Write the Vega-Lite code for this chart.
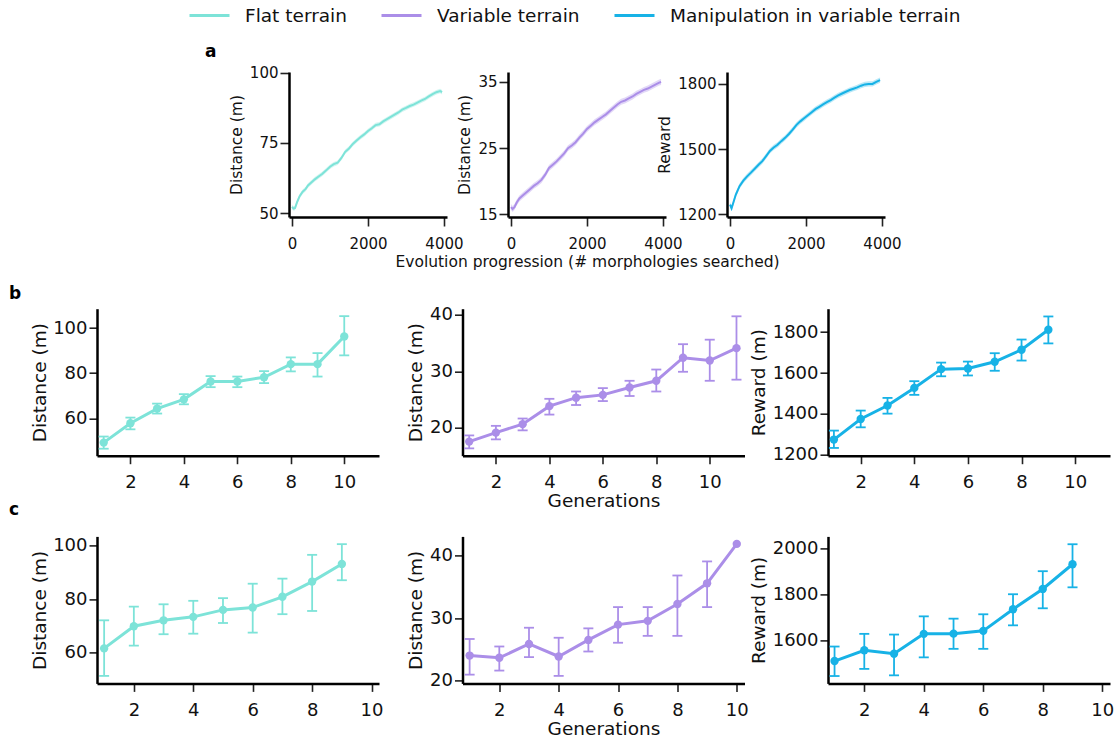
{
"$schema": "https://vega.github.io/schema/vega-lite/v6.json",
"background": "white",
"padding": {"left": 9, "top": 6, "right": 0, "bottom": 0},
"config": {
  "font": "DejaVu Sans",
  "view": {"stroke": null},
  "axis": {"grid": false, "domainColor": "#000", "domainWidth": 2.5, "tickColor": "#222", "tickWidth": 1.6, "labelColor": "#111", "titleColor": "#111", "titleFontWeight": "normal", "labelFont": "DejaVu Sans", "titleFont": "DejaVu Sans", "labelFlush": false, "labelOverlap": false},
  "axisX": {"labelPadding": 10, "tickSize": 8},
  "axisY": {"labelPadding": 2, "tickSize": 8},
  "title": {"fontSize": 17, "fontWeight": "bold", "font": "DejaVu Sans", "color": "#000", "anchor": "start", "frame": "group"},
  "legend": {"labelFont": "DejaVu Sans", "labelColor": "#111"}
},
"datasets": {
"flatEvo": [
{"series":"Flat terrain","x":0,"y":52.2,"lo":51.4,"hi":53.0},
{"series":"Flat terrain","x":40,"y":51.6,"lo":50.8,"hi":52.4},
{"series":"Flat terrain","x":80,"y":51.8,"lo":51.0,"hi":52.6},
{"series":"Flat terrain","x":130,"y":53.8,"lo":53.0,"hi":54.6},
{"series":"Flat terrain","x":200,"y":56.0,"lo":55.2,"hi":56.8},
{"series":"Flat terrain","x":280,"y":57.6,"lo":56.8,"hi":58.4},
{"series":"Flat terrain","x":360,"y":58.6,"lo":57.8,"hi":59.4},
{"series":"Flat terrain","x":420,"y":59.8,"lo":59.0,"hi":60.6},
{"series":"Flat terrain","x":500,"y":60.8,"lo":60.0,"hi":61.6},
{"series":"Flat terrain","x":600,"y":62.0,"lo":61.2,"hi":62.8},
{"series":"Flat terrain","x":700,"y":63.0,"lo":62.2,"hi":63.8},
{"series":"Flat terrain","x":800,"y":64.0,"lo":63.2,"hi":64.8},
{"series":"Flat terrain","x":900,"y":65.2,"lo":64.4,"hi":66.0},
{"series":"Flat terrain","x":1000,"y":66.5,"lo":65.7,"hi":67.3},
{"series":"Flat terrain","x":1100,"y":67.4,"lo":66.6,"hi":68.2},
{"series":"Flat terrain","x":1200,"y":67.9,"lo":67.1,"hi":68.7},
{"series":"Flat terrain","x":1300,"y":69.6,"lo":68.8,"hi":70.4},
{"series":"Flat terrain","x":1400,"y":71.8,"lo":71.0,"hi":72.6},
{"series":"Flat terrain","x":1500,"y":73.0,"lo":72.2,"hi":73.8},
{"series":"Flat terrain","x":1600,"y":74.6,"lo":73.8,"hi":75.4},
{"series":"Flat terrain","x":1700,"y":75.8,"lo":75.0,"hi":76.6},
{"series":"Flat terrain","x":1800,"y":77.0,"lo":76.2,"hi":77.8},
{"series":"Flat terrain","x":1900,"y":78.0,"lo":77.2,"hi":78.8},
{"series":"Flat terrain","x":2000,"y":79.2,"lo":78.4,"hi":80.0},
{"series":"Flat terrain","x":2100,"y":80.2,"lo":79.4,"hi":81.0},
{"series":"Flat terrain","x":2200,"y":81.3,"lo":80.5,"hi":82.1},
{"series":"Flat terrain","x":2300,"y":81.6,"lo":80.8,"hi":82.4},
{"series":"Flat terrain","x":2400,"y":82.6,"lo":81.8,"hi":83.4},
{"series":"Flat terrain","x":2500,"y":83.4,"lo":82.6,"hi":84.2},
{"series":"Flat terrain","x":2600,"y":84.2,"lo":83.4,"hi":85.0},
{"series":"Flat terrain","x":2700,"y":85.0,"lo":84.2,"hi":85.8},
{"series":"Flat terrain","x":2800,"y":85.8,"lo":85.0,"hi":86.6},
{"series":"Flat terrain","x":2900,"y":86.8,"lo":86.0,"hi":87.6},
{"series":"Flat terrain","x":3000,"y":87.4,"lo":86.6,"hi":88.2},
{"series":"Flat terrain","x":3100,"y":88.1,"lo":87.3,"hi":88.9},
{"series":"Flat terrain","x":3200,"y":88.6,"lo":87.8,"hi":89.4},
{"series":"Flat terrain","x":3300,"y":89.3,"lo":88.5,"hi":90.1},
{"series":"Flat terrain","x":3400,"y":90.0,"lo":89.2,"hi":90.8},
{"series":"Flat terrain","x":3500,"y":90.6,"lo":89.8,"hi":91.4},
{"series":"Flat terrain","x":3600,"y":91.5,"lo":90.7,"hi":92.3},
{"series":"Flat terrain","x":3700,"y":92.3,"lo":91.5,"hi":93.1},
{"series":"Flat terrain","x":3800,"y":93.0,"lo":92.2,"hi":93.8},
{"series":"Flat terrain","x":3900,"y":93.4,"lo":92.6,"hi":94.2},
{"series":"Flat terrain","x":3950,"y":93.0,"lo":92.2,"hi":93.8}
],
"varEvo": [
{"series":"Variable terrain","x":0,"y":16.1,"lo":15.65,"hi":16.55},
{"series":"Variable terrain","x":40,"y":15.8,"lo":15.35,"hi":16.25},
{"series":"Variable terrain","x":90,"y":16.1,"lo":15.65,"hi":16.55},
{"series":"Variable terrain","x":150,"y":16.8,"lo":16.35,"hi":17.25},
{"series":"Variable terrain","x":220,"y":17.4,"lo":16.95,"hi":17.85},
{"series":"Variable terrain","x":300,"y":17.8,"lo":17.35,"hi":18.25},
{"series":"Variable terrain","x":400,"y":18.3,"lo":17.85,"hi":18.75},
{"series":"Variable terrain","x":500,"y":18.8,"lo":18.35,"hi":19.25},
{"series":"Variable terrain","x":600,"y":19.3,"lo":18.85,"hi":19.75},
{"series":"Variable terrain","x":700,"y":19.7,"lo":19.25,"hi":20.15},
{"series":"Variable terrain","x":800,"y":20.2,"lo":19.75,"hi":20.65},
{"series":"Variable terrain","x":900,"y":21.0,"lo":20.55,"hi":21.45},
{"series":"Variable terrain","x":1000,"y":22.0,"lo":21.55,"hi":22.45},
{"series":"Variable terrain","x":1100,"y":22.5,"lo":22.05,"hi":22.95},
{"series":"Variable terrain","x":1200,"y":23.0,"lo":22.55,"hi":23.45},
{"series":"Variable terrain","x":1300,"y":23.6,"lo":23.15,"hi":24.05},
{"series":"Variable terrain","x":1400,"y":24.2,"lo":23.75,"hi":24.65},
{"series":"Variable terrain","x":1500,"y":25.0,"lo":24.55,"hi":25.45},
{"series":"Variable terrain","x":1600,"y":25.4,"lo":24.95,"hi":25.85},
{"series":"Variable terrain","x":1700,"y":25.9,"lo":25.45,"hi":26.35},
{"series":"Variable terrain","x":1800,"y":26.6,"lo":26.15,"hi":27.05},
{"series":"Variable terrain","x":1900,"y":27.2,"lo":26.75,"hi":27.65},
{"series":"Variable terrain","x":2000,"y":27.9,"lo":27.45,"hi":28.35},
{"series":"Variable terrain","x":2100,"y":28.4,"lo":27.95,"hi":28.85},
{"series":"Variable terrain","x":2200,"y":28.9,"lo":28.45,"hi":29.35},
{"series":"Variable terrain","x":2300,"y":29.3,"lo":28.85,"hi":29.75},
{"series":"Variable terrain","x":2400,"y":29.7,"lo":29.25,"hi":30.15},
{"series":"Variable terrain","x":2500,"y":30.1,"lo":29.65,"hi":30.55},
{"series":"Variable terrain","x":2600,"y":30.6,"lo":30.15,"hi":31.05},
{"series":"Variable terrain","x":2700,"y":31.1,"lo":30.65,"hi":31.55},
{"series":"Variable terrain","x":2800,"y":31.6,"lo":31.15,"hi":32.05},
{"series":"Variable terrain","x":2900,"y":32.0,"lo":31.55,"hi":32.45},
{"series":"Variable terrain","x":3000,"y":32.2,"lo":31.75,"hi":32.65},
{"series":"Variable terrain","x":3100,"y":32.5,"lo":32.05,"hi":32.95},
{"series":"Variable terrain","x":3200,"y":32.8,"lo":32.35,"hi":33.25},
{"series":"Variable terrain","x":3300,"y":33.2,"lo":32.75,"hi":33.65},
{"series":"Variable terrain","x":3400,"y":33.5,"lo":33.05,"hi":33.95},
{"series":"Variable terrain","x":3500,"y":33.8,"lo":33.35,"hi":34.25},
{"series":"Variable terrain","x":3600,"y":34.0,"lo":33.55,"hi":34.45},
{"series":"Variable terrain","x":3700,"y":34.3,"lo":33.85,"hi":34.75},
{"series":"Variable terrain","x":3800,"y":34.6,"lo":34.15,"hi":35.05},
{"series":"Variable terrain","x":3900,"y":34.9,"lo":34.45,"hi":35.35},
{"series":"Variable terrain","x":3950,"y":35.0,"lo":34.55,"hi":35.45}
],
"manEvo": [
{"series":"Manipulation in variable terrain","x":0,"y":1245,"lo":1233,"hi":1257},
{"series":"Manipulation in variable terrain","x":40,"y":1228,"lo":1216,"hi":1240},
{"series":"Manipulation in variable terrain","x":80,"y":1250,"lo":1238,"hi":1262},
{"series":"Manipulation in variable terrain","x":150,"y":1290,"lo":1278,"hi":1302},
{"series":"Manipulation in variable terrain","x":250,"y":1330,"lo":1318,"hi":1342},
{"series":"Manipulation in variable terrain","x":350,"y":1355,"lo":1343,"hi":1367},
{"series":"Manipulation in variable terrain","x":450,"y":1375,"lo":1363,"hi":1387},
{"series":"Manipulation in variable terrain","x":550,"y":1392,"lo":1380,"hi":1404},
{"series":"Manipulation in variable terrain","x":650,"y":1410,"lo":1398,"hi":1422},
{"series":"Manipulation in variable terrain","x":750,"y":1428,"lo":1416,"hi":1440},
{"series":"Manipulation in variable terrain","x":850,"y":1445,"lo":1433,"hi":1457},
{"series":"Manipulation in variable terrain","x":950,"y":1468,"lo":1456,"hi":1480},
{"series":"Manipulation in variable terrain","x":1050,"y":1492,"lo":1480,"hi":1504},
{"series":"Manipulation in variable terrain","x":1150,"y":1508,"lo":1496,"hi":1520},
{"series":"Manipulation in variable terrain","x":1250,"y":1520,"lo":1508,"hi":1532},
{"series":"Manipulation in variable terrain","x":1350,"y":1537,"lo":1525,"hi":1549},
{"series":"Manipulation in variable terrain","x":1450,"y":1552,"lo":1540,"hi":1564},
{"series":"Manipulation in variable terrain","x":1550,"y":1570,"lo":1558,"hi":1582},
{"series":"Manipulation in variable terrain","x":1650,"y":1590,"lo":1578,"hi":1602},
{"series":"Manipulation in variable terrain","x":1750,"y":1612,"lo":1600,"hi":1624},
{"series":"Manipulation in variable terrain","x":1850,"y":1628,"lo":1616,"hi":1640},
{"series":"Manipulation in variable terrain","x":1950,"y":1642,"lo":1630,"hi":1654},
{"series":"Manipulation in variable terrain","x":2050,"y":1656,"lo":1644,"hi":1668},
{"series":"Manipulation in variable terrain","x":2150,"y":1670,"lo":1658,"hi":1682},
{"series":"Manipulation in variable terrain","x":2250,"y":1684,"lo":1672,"hi":1696},
{"series":"Manipulation in variable terrain","x":2350,"y":1695,"lo":1683,"hi":1707},
{"series":"Manipulation in variable terrain","x":2450,"y":1706,"lo":1694,"hi":1718},
{"series":"Manipulation in variable terrain","x":2550,"y":1716,"lo":1704,"hi":1728},
{"series":"Manipulation in variable terrain","x":2650,"y":1726,"lo":1714,"hi":1738},
{"series":"Manipulation in variable terrain","x":2750,"y":1737,"lo":1725,"hi":1749},
{"series":"Manipulation in variable terrain","x":2850,"y":1747,"lo":1735,"hi":1759},
{"series":"Manipulation in variable terrain","x":2950,"y":1756,"lo":1744,"hi":1768},
{"series":"Manipulation in variable terrain","x":3050,"y":1764,"lo":1752,"hi":1776},
{"series":"Manipulation in variable terrain","x":3150,"y":1772,"lo":1760,"hi":1784},
{"series":"Manipulation in variable terrain","x":3250,"y":1778,"lo":1766,"hi":1790},
{"series":"Manipulation in variable terrain","x":3350,"y":1784,"lo":1772,"hi":1796},
{"series":"Manipulation in variable terrain","x":3450,"y":1792,"lo":1780,"hi":1804},
{"series":"Manipulation in variable terrain","x":3550,"y":1798,"lo":1786,"hi":1810},
{"series":"Manipulation in variable terrain","x":3650,"y":1800,"lo":1788,"hi":1812},
{"series":"Manipulation in variable terrain","x":3750,"y":1800,"lo":1788,"hi":1812},
{"series":"Manipulation in variable terrain","x":3850,"y":1810,"lo":1798,"hi":1822},
{"series":"Manipulation in variable terrain","x":3950,"y":1818,"lo":1806,"hi":1830}
],
"flatB": [
{"g":1,"y":49.2,"lo":46.5,"hi":51.9},{"g":2,"y":57.8,"lo":55.1,"hi":60.3},{"g":3,"y":64.3,"lo":62.1,"hi":66.5},{"g":4,"y":68.4,"lo":66.2,"hi":70.7},{"g":5,"y":76.3,"lo":73.8,"hi":78.7},{"g":6,"y":76.3,"lo":73.8,"hi":78.5},{"g":7,"y":78.2,"lo":75.6,"hi":80.9},{"g":8,"y":84.0,"lo":80.8,"hi":87.0},{"g":9,"y":84.0,"lo":78.5,"hi":88.9},{"g":10,"y":96.3,"lo":87.9,"hi":105.3}
],
"varB": [
{"g":1,"y":17.5,"lo":16.3,"hi":18.6},{"g":2,"y":19.1,"lo":17.9,"hi":20.3},{"g":3,"y":20.6,"lo":19.5,"hi":21.6},{"g":4,"y":23.8,"lo":22.3,"hi":25.1},{"g":5,"y":25.3,"lo":24.0,"hi":26.4},{"g":6,"y":25.8,"lo":24.7,"hi":27.0},{"g":7,"y":27.1,"lo":25.6,"hi":28.3},{"g":8,"y":28.3,"lo":26.4,"hi":30.3},{"g":9,"y":32.4,"lo":29.9,"hi":34.8},{"g":10,"y":31.9,"lo":28.3,"hi":35.6},{"g":11,"y":34.1,"lo":28.5,"hi":39.75}
],
"manB": [
{"g":1,"y":1274,"lo":1233,"hi":1318},{"g":2,"y":1375,"lo":1334,"hi":1416},{"g":3,"y":1441,"lo":1401,"hi":1478},{"g":4,"y":1527,"lo":1493,"hi":1560},{"g":5,"y":1619,"lo":1584,"hi":1651},{"g":6,"y":1622,"lo":1588,"hi":1656},{"g":7,"y":1655,"lo":1611,"hi":1697},{"g":8,"y":1714,"lo":1661,"hi":1764},{"g":9,"y":1812,"lo":1745,"hi":1877}
],
"flatC": [
{"g":1,"y":61.6,"lo":51.3,"hi":72.1},{"g":2,"y":69.9,"lo":62.6,"hi":77.2},{"g":3,"y":72.1,"lo":66.9,"hi":78.1},{"g":4,"y":73.4,"lo":67.1,"hi":79.4},{"g":5,"y":76.0,"lo":71.1,"hi":80.4},{"g":6,"y":76.9,"lo":67.5,"hi":85.8},{"g":7,"y":80.9,"lo":74.4,"hi":87.7},{"g":8,"y":86.6,"lo":75.6,"hi":96.6},{"g":9,"y":93.2,"lo":87.1,"hi":100.6}
],
"varC": [
{"g":1,"y":24.05,"lo":21.0,"hi":26.7},{"g":2,"y":23.7,"lo":21.65,"hi":25.5},{"g":3,"y":25.9,"lo":23.8,"hi":28.5},{"g":4,"y":23.9,"lo":20.8,"hi":26.9},{"g":5,"y":26.55,"lo":24.7,"hi":28.4},{"g":6,"y":29.0,"lo":26.1,"hi":31.8},{"g":7,"y":29.6,"lo":27.2,"hi":31.8},{"g":8,"y":32.3,"lo":27.2,"hi":36.85},{"g":9,"y":35.6,"lo":31.8,"hi":39.1},{"g":10,"y":41.9,"lo":null,"hi":null}
],
"manC": [
{"g":1,"y":1510,"lo":1445,"hi":1573},{"g":2,"y":1557,"lo":1476,"hi":1628},{"g":3,"y":1542,"lo":1448,"hi":1625},{"g":4,"y":1628,"lo":1526,"hi":1704},{"g":5,"y":1629,"lo":1563,"hi":1694},{"g":6,"y":1641,"lo":1563,"hi":1713},{"g":7,"y":1735,"lo":1665,"hi":1800},{"g":8,"y":1823,"lo":1739,"hi":1900},{"g":9,"y":1930,"lo":1830,"hi":2017}
]
},
"spacing": -9.3,
"vconcat": [
{
 "hconcat": [
  {"width": 131, "height": 145, "data": {"values": []}, "mark": "point", "encoding": {}},
  {"width": 158, "height": 145, "data": {"name": "flatEvo"},
   "title": {"text": "a", "dx": -84, "offset": 5},
   "encoding": {"x": {"field": "x", "type": "quantitative", "scale": {"domain": [-80, 4080], "nice": false, "zero": false}, "axis": {"values": [0, 2000, 4000], "format": "d", "title": null, "labelFontSize": 15, "tickSize": 9}}},
   "layer": [
    {"mark": {"type": "area", "color": "#7de3d8", "opacity": 0.35}, "encoding": {"y": {"field": "lo", "type": "quantitative", "scale": {"domain": [48.6, 100.2], "nice": false, "zero": false}, "axis": {"values": [50, 75, 100], "format": "d", "title": "Distance (m)", "labelFontSize": 15, "titleFontSize": 15.5, "tickSize": 9, "titlePadding": 5}}, "y2": {"field": "hi"}}},
    {"mark": {"type": "line", "strokeWidth": 2}, "encoding": {"y": {"field": "y", "type": "quantitative", "scale": {"domain": [48.6, 100.2], "nice": false, "zero": false}, "axis": {"values": [50, 75, 100], "format": "d", "title": "Distance (m)", "labelFontSize": 15, "titleFontSize": 15.5, "tickSize": 9, "titlePadding": 5}},
      "color": {"field": "series", "type": "nominal", "scale": {"domain": ["Flat terrain", "Variable terrain", "Manipulation in variable terrain"], "range": ["#7de3d8", "#ab8ee8", "#17b2e6"]},
        "legend": {"orient": "none", "legendX": 103, "legendY": -66, "direction": "horizontal", "title": null, "symbolType": "M-2.5,0H2.5", "symbolSize": 256, "symbolStrokeWidth": 3, "labelFontSize": 18.5, "labelOffset": 26, "columnPadding": 28, "labelLimit": 600}}}}
   ]},
  {"width": 158, "height": 145, "data": {"name": "varEvo"},
   "encoding": {"x": {"field": "x", "type": "quantitative", "scale": {"domain": [-80, 4080], "nice": false, "zero": false}, "axis": {"values": [0, 2000, 4000], "format": "d", "title": ["Evolution progression (# morphologies searched)", " "], "titleLineHeight": 23.6, "labelFontSize": 15, "titleFontSize": 15.5, "titlePadding": 3, "tickSize": 9}}},
   "layer": [
    {"mark": {"type": "area", "color": "#ab8ee8", "opacity": 0.35}, "encoding": {"y": {"field": "lo", "type": "quantitative", "scale": {"domain": [14.6, 36.5], "nice": false, "zero": false}, "axis": {"values": [15, 25, 35], "format": "d", "title": "Distance (m)", "labelFontSize": 15, "titleFontSize": 15.5, "tickSize": 9, "titlePadding": 5}}, "y2": {"field": "hi"}}},
    {"mark": {"type": "line", "strokeWidth": 2}, "encoding": {"y": {"field": "y", "type": "quantitative", "scale": {"domain": [14.6, 36.5], "nice": false, "zero": false}, "axis": {"values": [15, 25, 35], "format": "d", "title": "Distance (m)", "labelFontSize": 15, "titleFontSize": 15.5, "tickSize": 9, "titlePadding": 5}},
      "color": {"field": "series", "type": "nominal", "scale": {"domain": ["Flat terrain", "Variable terrain", "Manipulation in variable terrain"], "range": ["#7de3d8", "#ab8ee8", "#17b2e6"]},
        "legend": {"orient": "none", "legendX": 103, "legendY": -66, "direction": "horizontal", "title": null, "symbolType": "M-2.5,0H2.5", "symbolSize": 256, "symbolStrokeWidth": 3, "labelFontSize": 18.5, "labelOffset": 26, "columnPadding": 28, "labelLimit": 600}}}}
   ]},
  {"width": 158, "height": 145, "data": {"name": "manEvo"},
   "encoding": {"x": {"field": "x", "type": "quantitative", "scale": {"domain": [-80, 4080], "nice": false, "zero": false}, "axis": {"values": [0, 2000, 4000], "format": "d", "title": null, "labelFontSize": 15, "tickSize": 9}}},
   "layer": [
    {"mark": {"type": "area", "color": "#17b2e6", "opacity": 0.3}, "encoding": {"y": {"field": "lo", "type": "quantitative", "scale": {"domain": [1188, 1855], "nice": false, "zero": false}, "axis": {"values": [1200, 1500, 1800], "format": "d", "title": "Reward", "labelFontSize": 15, "titleFontSize": 15.5, "tickSize": 9, "titlePadding": 5}}, "y2": {"field": "hi"}}},
    {"mark": {"type": "line", "strokeWidth": 2}, "encoding": {"y": {"field": "y", "type": "quantitative", "scale": {"domain": [1188, 1855], "nice": false, "zero": false}, "axis": {"values": [1200, 1500, 1800], "format": "d", "title": "Reward", "labelFontSize": 15, "titleFontSize": 15.5, "tickSize": 9, "titlePadding": 5}},
      "color": {"field": "series", "type": "nominal", "scale": {"domain": ["Flat terrain", "Variable terrain", "Manipulation in variable terrain"], "range": ["#7de3d8", "#ab8ee8", "#17b2e6"]},
        "legend": {"orient": "none", "legendX": 103, "legendY": -66, "direction": "horizontal", "title": null, "symbolType": "M-2.5,0H2.5", "symbolSize": 256, "symbolStrokeWidth": 3, "labelFontSize": 18.5, "labelOffset": 26, "columnPadding": 28, "labelLimit": 600}}}}
   ]}
 ],
 "spacing": 61, "bounds": "flush"
},
{
 "hconcat": [
  {"width": 282, "height": 147, "data": {"name": "flatB"},
   "title": {"text": "b", "dx": -88, "offset": 6},
   "encoding": {"x": {"field": "g", "type": "quantitative", "scale": {"domain": [0.75, 11.3], "nice": false, "zero": false}, "axis": {"values": [2, 4, 6, 8, 10], "title": null, "labelFontSize": 18}}},
   "layer": [
    {"mark": {"type": "rule", "color": "#7de3d8", "strokeWidth": 1.8}, "encoding": {"y": {"field": "lo", "type": "quantitative", "scale": {"domain": [43.4, 108.6], "nice": false, "zero": false}, "axis": {"values": [60, 80, 100], "format": "d", "title": "Distance (m)", "labelFontSize": 18, "titleFontSize": 18.5, "titlePadding": 3}}, "y2": {"field": "hi"}}},
    {"mark": {"type": "tick", "orient": "horizontal", "color": "#7de3d8", "size": 10, "thickness": 1.8, "opacity": 1}, "encoding": {"y": {"field": "lo", "type": "quantitative", "scale": {"domain": [43.4, 108.6], "nice": false, "zero": false}, "axis": {"values": [60, 80, 100], "format": "d", "title": "Distance (m)", "labelFontSize": 18, "titleFontSize": 18.5, "titlePadding": 3}}}},
    {"mark": {"type": "tick", "orient": "horizontal", "color": "#7de3d8", "size": 10, "thickness": 1.8, "opacity": 1}, "encoding": {"y": {"field": "hi", "type": "quantitative", "scale": {"domain": [43.4, 108.6], "nice": false, "zero": false}, "axis": {"values": [60, 80, 100], "format": "d", "title": "Distance (m)", "labelFontSize": 18, "titleFontSize": 18.5, "titlePadding": 3}}}},
    {"mark": {"type": "line", "color": "#7de3d8", "strokeWidth": 3}, "encoding": {"y": {"field": "y", "type": "quantitative", "scale": {"domain": [43.4, 108.6], "nice": false, "zero": false}, "axis": {"values": [60, 80, 100], "format": "d", "title": "Distance (m)", "labelFontSize": 18, "titleFontSize": 18.5, "titlePadding": 3}}}},
    {"mark": {"type": "point", "filled": true, "color": "#7de3d8", "size": 70, "opacity": 1}, "encoding": {"y": {"field": "y", "type": "quantitative", "scale": {"domain": [43.4, 108.6], "nice": false, "zero": false}, "axis": {"values": [60, 80, 100], "format": "d", "title": "Distance (m)", "labelFontSize": 18, "titleFontSize": 18.5, "titlePadding": 3}}}}
   ]},
  {"width": 282, "height": 147, "data": {"name": "varB"},
   "encoding": {"x": {"field": "g", "type": "quantitative", "scale": {"domain": [0.75, 11.3], "nice": false, "zero": false}, "axis": {"values": [2, 4, 6, 8, 10], "title": "Generations", "labelFontSize": 18, "titleFontSize": 18.5, "titlePadding": 0}}},
   "layer": [
    {"mark": {"type": "rule", "color": "#ab8ee8", "strokeWidth": 1.8}, "encoding": {"y": {"field": "lo", "type": "quantitative", "scale": {"domain": [15.0, 41.1], "nice": false, "zero": false}, "axis": {"values": [20, 30, 40], "format": "d", "title": "Distance (m)", "labelFontSize": 18, "titleFontSize": 18.5, "titlePadding": 4}}, "y2": {"field": "hi"}}},
    {"mark": {"type": "tick", "orient": "horizontal", "color": "#ab8ee8", "size": 10, "thickness": 1.8, "opacity": 1}, "encoding": {"y": {"field": "lo", "type": "quantitative", "scale": {"domain": [15.0, 41.1], "nice": false, "zero": false}, "axis": {"values": [20, 30, 40], "format": "d", "title": "Distance (m)", "labelFontSize": 18, "titleFontSize": 18.5, "titlePadding": 4}}}},
    {"mark": {"type": "tick", "orient": "horizontal", "color": "#ab8ee8", "size": 10, "thickness": 1.8, "opacity": 1}, "encoding": {"y": {"field": "hi", "type": "quantitative", "scale": {"domain": [15.0, 41.1], "nice": false, "zero": false}, "axis": {"values": [20, 30, 40], "format": "d", "title": "Distance (m)", "labelFontSize": 18, "titleFontSize": 18.5, "titlePadding": 4}}}},
    {"mark": {"type": "line", "color": "#ab8ee8", "strokeWidth": 3}, "encoding": {"y": {"field": "y", "type": "quantitative", "scale": {"domain": [15.0, 41.1], "nice": false, "zero": false}, "axis": {"values": [20, 30, 40], "format": "d", "title": "Distance (m)", "labelFontSize": 18, "titleFontSize": 18.5, "titlePadding": 4}}}},
    {"mark": {"type": "point", "filled": true, "color": "#ab8ee8", "size": 70, "opacity": 1}, "encoding": {"y": {"field": "y", "type": "quantitative", "scale": {"domain": [15.0, 41.1], "nice": false, "zero": false}, "axis": {"values": [20, 30, 40], "format": "d", "title": "Distance (m)", "labelFontSize": 18, "titleFontSize": 18.5, "titlePadding": 4}}}}
   ]},
  {"width": 282, "height": 147, "data": {"name": "manB"},
   "encoding": {"x": {"field": "g", "type": "quantitative", "scale": {"domain": [0.78, 11.3], "nice": false, "zero": false}, "axis": {"values": [2, 4, 6, 8, 10], "title": null, "labelFontSize": 18}}},
   "layer": [
    {"mark": {"type": "rule", "color": "#17b2e6", "strokeWidth": 1.8}, "encoding": {"y": {"field": "lo", "type": "quantitative", "scale": {"domain": [1195, 1915], "nice": false, "zero": false}, "axis": {"values": [1200, 1400, 1600, 1800], "format": "d", "title": "Reward (m)", "labelFontSize": 18, "titleFontSize": 18.5, "titlePadding": 4}}, "y2": {"field": "hi"}}},
    {"mark": {"type": "tick", "orient": "horizontal", "color": "#17b2e6", "size": 10, "thickness": 1.8, "opacity": 1}, "encoding": {"y": {"field": "lo", "type": "quantitative", "scale": {"domain": [1195, 1915], "nice": false, "zero": false}, "axis": {"values": [1200, 1400, 1600, 1800], "format": "d", "title": "Reward (m)", "labelFontSize": 18, "titleFontSize": 18.5, "titlePadding": 4}}}},
    {"mark": {"type": "tick", "orient": "horizontal", "color": "#17b2e6", "size": 10, "thickness": 1.8, "opacity": 1}, "encoding": {"y": {"field": "hi", "type": "quantitative", "scale": {"domain": [1195, 1915], "nice": false, "zero": false}, "axis": {"values": [1200, 1400, 1600, 1800], "format": "d", "title": "Reward (m)", "labelFontSize": 18, "titleFontSize": 18.5, "titlePadding": 4}}}},
    {"mark": {"type": "line", "color": "#17b2e6", "strokeWidth": 3}, "encoding": {"y": {"field": "y", "type": "quantitative", "scale": {"domain": [1195, 1915], "nice": false, "zero": false}, "axis": {"values": [1200, 1400, 1600, 1800], "format": "d", "title": "Reward (m)", "labelFontSize": 18, "titleFontSize": 18.5, "titlePadding": 4}}}},
    {"mark": {"type": "point", "filled": true, "color": "#17b2e6", "size": 70, "opacity": 1}, "encoding": {"y": {"field": "y", "type": "quantitative", "scale": {"domain": [1195, 1915], "nice": false, "zero": false}, "axis": {"values": [1200, 1400, 1600, 1800], "format": "d", "title": "Reward (m)", "labelFontSize": 18, "titleFontSize": 18.5, "titlePadding": 4}}}}
   ]}
 ],
 "spacing": 83.5, "bounds": "flush"
},
{
 "hconcat": [
  {"width": 282, "height": 147, "data": {"name": "flatC"},
   "title": {"text": "c", "dx": -88, "offset": 17},
   "encoding": {"x": {"field": "g", "type": "quantitative", "scale": {"domain": [0.76, 10.25], "nice": false, "zero": false}, "axis": {"values": [2, 4, 6, 8, 10], "title": null, "labelFontSize": 18}}},
   "layer": [
    {"mark": {"type": "rule", "color": "#7de3d8", "strokeWidth": 1.8}, "encoding": {"y": {"field": "lo", "type": "quantitative", "scale": {"domain": [48.5, 103.5], "nice": false, "zero": false}, "axis": {"values": [60, 80, 100], "format": "d", "title": "Distance (m)", "labelFontSize": 18, "titleFontSize": 18.5, "titlePadding": 3}}, "y2": {"field": "hi"}}},
    {"mark": {"type": "tick", "orient": "horizontal", "color": "#7de3d8", "size": 10, "thickness": 1.8, "opacity": 1}, "encoding": {"y": {"field": "lo", "type": "quantitative", "scale": {"domain": [48.5, 103.5], "nice": false, "zero": false}, "axis": {"values": [60, 80, 100], "format": "d", "title": "Distance (m)", "labelFontSize": 18, "titleFontSize": 18.5, "titlePadding": 3}}}},
    {"mark": {"type": "tick", "orient": "horizontal", "color": "#7de3d8", "size": 10, "thickness": 1.8, "opacity": 1}, "encoding": {"y": {"field": "hi", "type": "quantitative", "scale": {"domain": [48.5, 103.5], "nice": false, "zero": false}, "axis": {"values": [60, 80, 100], "format": "d", "title": "Distance (m)", "labelFontSize": 18, "titleFontSize": 18.5, "titlePadding": 3}}}},
    {"mark": {"type": "line", "color": "#7de3d8", "strokeWidth": 3}, "encoding": {"y": {"field": "y", "type": "quantitative", "scale": {"domain": [48.5, 103.5], "nice": false, "zero": false}, "axis": {"values": [60, 80, 100], "format": "d", "title": "Distance (m)", "labelFontSize": 18, "titleFontSize": 18.5, "titlePadding": 3}}}},
    {"mark": {"type": "point", "filled": true, "color": "#7de3d8", "size": 70, "opacity": 1}, "encoding": {"y": {"field": "y", "type": "quantitative", "scale": {"domain": [48.5, 103.5], "nice": false, "zero": false}, "axis": {"values": [60, 80, 100], "format": "d", "title": "Distance (m)", "labelFontSize": 18, "titleFontSize": 18.5, "titlePadding": 3}}}}
   ]},
  {"width": 282, "height": 147, "data": {"name": "varC"},
   "encoding": {"x": {"field": "g", "type": "quantitative", "scale": {"domain": [0.76, 10.26], "nice": false, "zero": false}, "axis": {"values": [2, 4, 6, 8, 10], "title": "Generations", "labelFontSize": 18, "titleFontSize": 18.5, "titlePadding": 0}}},
   "layer": [
    {"mark": {"type": "rule", "color": "#ab8ee8", "strokeWidth": 1.8}, "encoding": {"y": {"field": "lo", "type": "quantitative", "scale": {"domain": [19.6, 43.1], "nice": false, "zero": false}, "axis": {"values": [20, 30, 40], "format": "d", "title": "Distance (m)", "labelFontSize": 18, "titleFontSize": 18.5, "titlePadding": 4}}, "y2": {"field": "hi"}}},
    {"mark": {"type": "tick", "orient": "horizontal", "color": "#ab8ee8", "size": 10, "thickness": 1.8, "opacity": 1}, "encoding": {"y": {"field": "lo", "type": "quantitative", "scale": {"domain": [19.6, 43.1], "nice": false, "zero": false}, "axis": {"values": [20, 30, 40], "format": "d", "title": "Distance (m)", "labelFontSize": 18, "titleFontSize": 18.5, "titlePadding": 4}}}},
    {"mark": {"type": "tick", "orient": "horizontal", "color": "#ab8ee8", "size": 10, "thickness": 1.8, "opacity": 1}, "encoding": {"y": {"field": "hi", "type": "quantitative", "scale": {"domain": [19.6, 43.1], "nice": false, "zero": false}, "axis": {"values": [20, 30, 40], "format": "d", "title": "Distance (m)", "labelFontSize": 18, "titleFontSize": 18.5, "titlePadding": 4}}}},
    {"mark": {"type": "line", "color": "#ab8ee8", "strokeWidth": 3}, "encoding": {"y": {"field": "y", "type": "quantitative", "scale": {"domain": [19.6, 43.1], "nice": false, "zero": false}, "axis": {"values": [20, 30, 40], "format": "d", "title": "Distance (m)", "labelFontSize": 18, "titleFontSize": 18.5, "titlePadding": 4}}}},
    {"mark": {"type": "point", "filled": true, "color": "#ab8ee8", "size": 70, "opacity": 1}, "encoding": {"y": {"field": "y", "type": "quantitative", "scale": {"domain": [19.6, 43.1], "nice": false, "zero": false}, "axis": {"values": [20, 30, 40], "format": "d", "title": "Distance (m)", "labelFontSize": 18, "titleFontSize": 18.5, "titlePadding": 4}}}}
   ]},
  {"width": 282, "height": 147, "data": {"name": "manC"},
   "encoding": {"x": {"field": "g", "type": "quantitative", "scale": {"domain": [0.78, 10.26], "nice": false, "zero": false}, "axis": {"values": [2, 4, 6, 8, 10], "title": null, "labelFontSize": 18}}},
   "layer": [
    {"mark": {"type": "rule", "color": "#17b2e6", "strokeWidth": 1.8}, "encoding": {"y": {"field": "lo", "type": "quantitative", "scale": {"domain": [1413, 2051], "nice": false, "zero": false}, "axis": {"values": [1600, 1800, 2000], "format": "d", "title": "Reward (m)", "labelFontSize": 18, "titleFontSize": 18.5, "titlePadding": 4}}, "y2": {"field": "hi"}}},
    {"mark": {"type": "tick", "orient": "horizontal", "color": "#17b2e6", "size": 10, "thickness": 1.8, "opacity": 1}, "encoding": {"y": {"field": "lo", "type": "quantitative", "scale": {"domain": [1413, 2051], "nice": false, "zero": false}, "axis": {"values": [1600, 1800, 2000], "format": "d", "title": "Reward (m)", "labelFontSize": 18, "titleFontSize": 18.5, "titlePadding": 4}}}},
    {"mark": {"type": "tick", "orient": "horizontal", "color": "#17b2e6", "size": 10, "thickness": 1.8, "opacity": 1}, "encoding": {"y": {"field": "hi", "type": "quantitative", "scale": {"domain": [1413, 2051], "nice": false, "zero": false}, "axis": {"values": [1600, 1800, 2000], "format": "d", "title": "Reward (m)", "labelFontSize": 18, "titleFontSize": 18.5, "titlePadding": 4}}}},
    {"mark": {"type": "line", "color": "#17b2e6", "strokeWidth": 3}, "encoding": {"y": {"field": "y", "type": "quantitative", "scale": {"domain": [1413, 2051], "nice": false, "zero": false}, "axis": {"values": [1600, 1800, 2000], "format": "d", "title": "Reward (m)", "labelFontSize": 18, "titleFontSize": 18.5, "titlePadding": 4}}}},
    {"mark": {"type": "point", "filled": true, "color": "#17b2e6", "size": 70, "opacity": 1}, "encoding": {"y": {"field": "y", "type": "quantitative", "scale": {"domain": [1413, 2051], "nice": false, "zero": false}, "axis": {"values": [1600, 1800, 2000], "format": "d", "title": "Reward (m)", "labelFontSize": 18, "titleFontSize": 18.5, "titlePadding": 4}}}}
   ]}
 ],
 "spacing": 83.5, "bounds": "flush"
}
]
}
